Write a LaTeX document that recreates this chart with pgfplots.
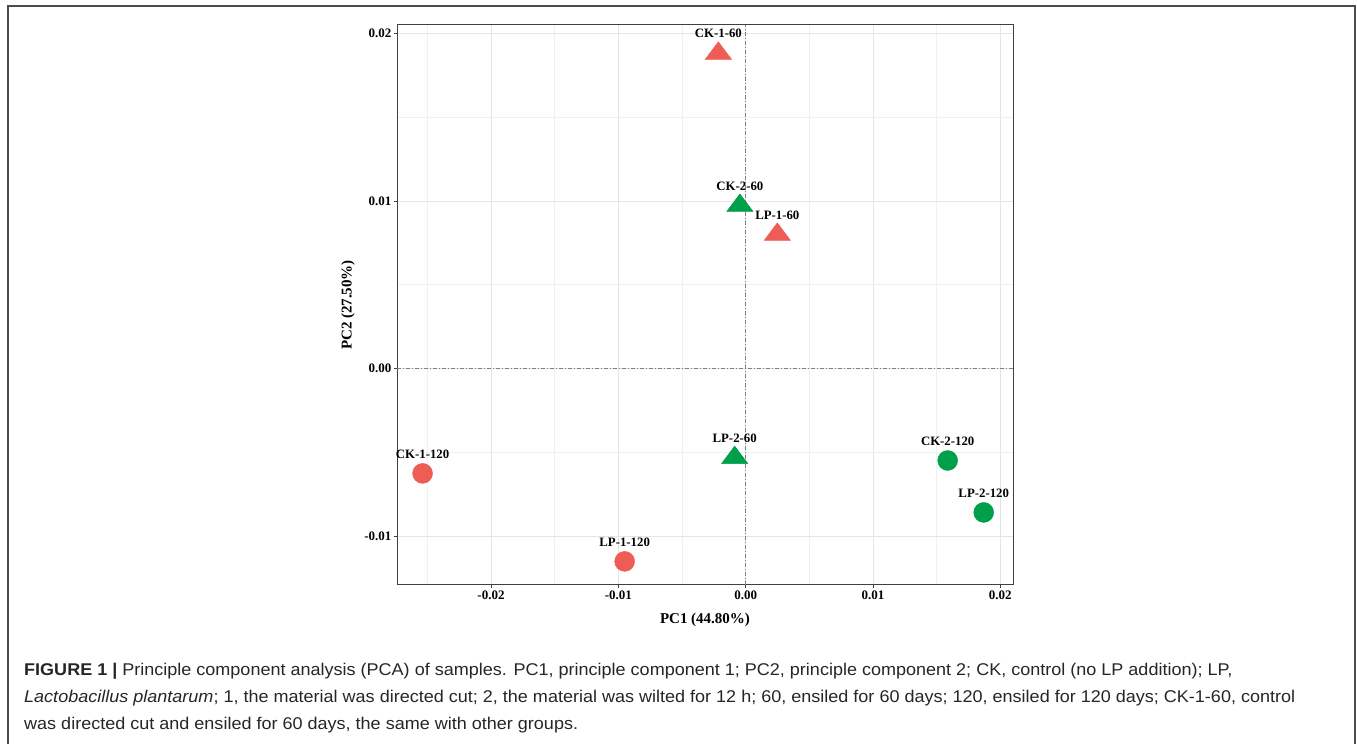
\documentclass[border=0pt]{standalone}
\usepackage{fontspec}
\setmainfont{Liberation Serif}
\newfontfamily\capfont[FakeStretch=1.06]{Liberation Sans}
\usepackage{pgfplots}
\pgfplotsset{compat=1.18}
\definecolor{myred}{RGB}{238,93,85}
\definecolor{mygreen}{RGB}{0,160,75}
\begin{document}
\begin{tikzpicture}[x=1pt,y=1pt]
\useasboundingbox (0,0) rectangle (1357,744);
\draw[black!70, line width=1.2pt] (8,0) -- (8,738) -- (1355,738) -- (1355,0);
\begin{axis}[at={(397pt,159pt)}, anchor=south west, scale only axis,
  width=616pt, height=560pt,
  xmin=-0.02738, xmax=0.0210, ymin=-0.01292, ymax=0.0205,
  xtick={-0.02,-0.01,0,0.01,0.02}, xticklabels={-0.02,-0.01,0.00,0.01,0.02},
  ytick={-0.01,0,0.01,0.02}, yticklabels={-0.01,0.00,0.01,0.02},
  minor xtick={-0.025,-0.015,-0.005,0.005,0.015},
  minor ytick={-0.005,0.005,0.015},
  grid=both,
  major grid style={black!10, line width=0.8pt},
  minor grid style={black!6, line width=0.8pt},
  axis line style={black!75, line width=1pt},
  tick align=outside, xtick pos=bottom, ytick pos=left,
  major tick length=3pt, minor tick length=0pt,
  tick style={black!75, line width=0.8pt},
  ticklabel style={font=\bfseries\fontsize{13}{15}\selectfont},
  x tick label style={yshift=1pt},
  y tick label style={xshift=1pt},
  scaled ticks=false,
  xlabel={PC1 (44.80\%)}, ylabel={PC2 (27.50\%)},
  label style={font=\bfseries\fontsize{15}{17}\selectfont},
  x label style={at={(axis description cs:0.5,0)}, anchor=center, yshift=-35pt},
  y label style={at={(axis description cs:0,0.5)}, anchor=center, yshift=49pt},
  clip=false,
]
\addplot[black!50, line width=0.8pt, dash pattern=on 4pt off 2pt on 1pt off 2pt] coordinates {(0,-0.01292) (0,0.0205)};
\addplot[black!50, line width=0.8pt, dash pattern=on 4pt off 2pt on 1pt off 2pt] coordinates {(-0.02738,0) (0.0210,0)};
% triangles red
\addplot[myred, only marks, mark=triangle*, mark size=15.2pt, mark options={yscale=0.77, fill=myred, draw=myred, line width=0.5pt},
  nodes near coords, point meta=explicit symbolic,
  every node near coord/.style={font=\bfseries\fontsize{12.8}{14}\selectfont, text=black, inner sep=0pt, anchor=base, yshift=15.5pt}]
  table[meta=label] {
x y label
-0.00214 0.01880 CK-1-60
0.00249 0.00799 LP-1-60
};
% triangles green
\addplot[mygreen, only marks, mark=triangle*, mark size=15.2pt, mark options={yscale=0.77, fill=mygreen, draw=mygreen, line width=0.5pt},
  nodes near coords, point meta=explicit symbolic,
  every node near coord/.style={font=\bfseries\fontsize{12.8}{14}\selectfont, text=black, inner sep=0pt, anchor=base, yshift=15.5pt}]
  table[meta=label] {
x y label
-0.00045 0.00972 CK-2-60
-0.00086 -0.00533 LP-2-60
};
% circles red
\addplot[myred, only marks, mark=*, mark size=10pt, mark options={fill=myred, draw=myred, line width=0.4pt},
  nodes near coords, point meta=explicit symbolic,
  every node near coord/.style={font=\bfseries\fontsize{12.8}{14}\selectfont, text=black, inner sep=0pt, anchor=base, yshift=14.5pt}]
  table[meta=label] {
x y label
-0.02537 -0.00626 CK-1-120
-0.00950 -0.01151 LP-1-120
};
% circles green
\addplot[mygreen, only marks, mark=*, mark size=10pt, mark options={fill=mygreen, draw=mygreen, line width=0.4pt},
  nodes near coords, point meta=explicit symbolic,
  every node near coord/.style={font=\bfseries\fontsize{12.8}{14}\selectfont, text=black, inner sep=0pt, anchor=base, yshift=14.5pt}]
  table[meta=label] {
x y label
0.01587 -0.00549 CK-2-120
0.01870 -0.00859 LP-2-120
};
\end{axis}
\node[anchor=base west, inner sep=0pt, align=left, text=black!85, font=\capfont\fontsize{17}{27}\selectfont] at (24,14)
{{\bfseries FIGURE 1 |} Principle component analysis (PCA) of samples. PC1, principle component 1; PC2, principle component 2; CK, control (no LP addition); LP,\\
\textit{Lactobacillus plantarum}; 1, the material was directed cut; 2, the material was wilted for 12 h; 60, ensiled for 60 days; 120, ensiled for 120 days; CK-1-60, control\\
was directed cut and ensiled for 60 days, the same with other groups.};
\end{tikzpicture}
\end{document}
